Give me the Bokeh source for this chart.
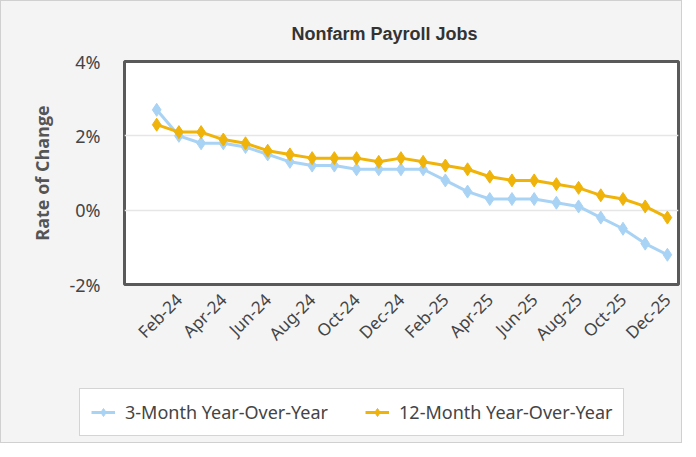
from bokeh.plotting import figure
from bokeh.layouts import column, row
from bokeh.models import Range1d, FixedTicker, Legend, LegendItem
from bokeh.embed import file_html
from bokeh.resources import INLINE

months = ["Jan-24", "Feb-24", "Mar-24", "Apr-24", "May-24", "Jun-24", "Jul-24", "Aug-24",
          "Sep-24", "Oct-24", "Nov-24", "Dec-24", "Jan-25", "Feb-25", "Mar-25", "Apr-25",
          "May-25", "Jun-25", "Jul-25", "Aug-25", "Sep-25", "Oct-25", "Nov-25", "Dec-25"]
three_month = [2.7, 2.0, 1.8, 1.8, 1.7, 1.5, 1.3, 1.2, 1.2, 1.1, 1.1, 1.1,
               1.1, 0.8, 0.5, 0.3, 0.3, 0.3, 0.2, 0.1, -0.2, -0.5, -0.9, -1.2]
twelve_month = [2.3, 2.1, 2.1, 1.9, 1.8, 1.6, 1.5, 1.4, 1.4, 1.4, 1.3, 1.4,
                1.3, 1.2, 1.1, 0.9, 0.8, 0.8, 0.7, 0.6, 0.4, 0.3, 0.1, -0.2]
y_ticks = [-2, 0, 2, 4]
series_names = ["3-Month Year-Over-Year", "12-Month Year-Over-Year"]

x = list(range(len(months)))
label_idx = [i for i, m in enumerate(months) if i % 2 == 1]

BLUE = "#a9d3f5"
ORANGE = "#f0b30a"
TXT = "#444444"
BG = "#f4f4f4"

p = figure(width=680, height=370, output_backend="svg", toolbar_location=None,
           x_range=Range1d(-1.45, 23.5), y_range=Range1d(-2, 4),
           min_border_left=123, min_border_right=3, min_border_top=60, min_border_bottom=87,
           background_fill_color="white", border_fill_color=BG,
           outline_line_color="#595959", outline_line_width=3)

p.title.text = "Nonfarm Payroll Jobs"
p.title.align = "left"
p.title.offset = 167
p.title.standoff = 36
p.title.text_font = "Liberation Sans"
p.title.text_font_size = "18px"
p.title.text_font_style = "bold"
p.title.text_color = "#333333"

p.line(x, three_month, line_color=BLUE, line_width=3)
p.scatter(x, three_month, marker="diamond", size=13, fill_color=BLUE, line_color=BLUE)
p.line(x, twelve_month, line_color=ORANGE, line_width=3)
p.scatter(x, twelve_month, marker="diamond", size=13, fill_color=ORANGE, line_color=ORANGE)

# axes
p.xaxis.ticker = FixedTicker(ticks=label_idx)
p.xaxis.major_label_overrides = {i: months[i] for i in label_idx}
p.xaxis.major_label_orientation = 0.785398
p.xaxis.major_label_standoff = 6
p.yaxis.ticker = FixedTicker(ticks=y_ticks)
p.yaxis.major_label_overrides = {v: f"{v}%" for v in y_ticks}
p.yaxis.major_label_standoff = 18
p.yaxis.axis_label = "Rate of Change"
p.yaxis.axis_label_standoff = 12
p.yaxis.axis_label_text_font = "Open Sans"
p.yaxis.axis_label_text_font_style = "bold"
p.yaxis.axis_label_text_font_size = "18px"
p.yaxis.axis_label_text_color = "#555555"
for ax in (p.xaxis, p.yaxis):
    ax.axis_line_color = None
    ax.major_tick_line_color = None
    ax.minor_tick_line_color = None
    ax.major_label_text_font = "Noto Sans"
    ax.major_label_text_font_size = "17px"
    ax.major_label_text_color = TXT
p.yaxis.major_label_text_font_size = "18px"

p.xgrid.grid_line_color = None
p.ygrid.ticker = FixedTicker(ticks=y_ticks)
p.ygrid.grid_line_color = "#e6e6e6"
p.ygrid.grid_line_width = 1.5

# legend strip (separate figure so the legend can sit outside the plot frame);
# the series are drawn here outside the visible y range only to feed the legend glyphs
q = figure(width=680, height=71, output_backend="svg", toolbar_location=None,
           x_range=Range1d(-1.45, 23.5), y_range=Range1d(100, 101),
           x_axis_type=None, y_axis_type=None,
           min_border_left=0, min_border_right=0, min_border_top=0, min_border_bottom=0,
           background_fill_color=BG, border_fill_color=BG, outline_line_color=None)
q.xgrid.visible = False
q.ygrid.visible = False
ql1 = q.line(x, three_month, line_color=BLUE, line_width=3)
qs1 = q.scatter(x, three_month, marker="diamond", size=13, fill_color=BLUE, line_color=BLUE)
ql2 = q.line(x, twelve_month, line_color=ORANGE, line_width=3)
qs2 = q.scatter(x, twelve_month, marker="diamond", size=13, fill_color=ORANGE, line_color=ORANGE)

legend = Legend(items=[LegendItem(label=series_names[0], renderers=[ql1, qs1]),
                       LegendItem(label=series_names[1], renderers=[ql2, qs2])],
                location=(78, 6), orientation="horizontal",
                label_text_font="Noto Sans", label_text_font_size="18px",
                label_text_color=TXT, glyph_width=24, glyph_height=20,
                label_standoff=10, spacing=37, padding=11, margin=0,
                border_line_color="#aaaaaa", border_line_width=1,
                background_fill_color="white", background_fill_alpha=1)
q.add_layout(legend, "center")

layout = column(p, row(q), spacing=0, styles={"border": "1px solid #d0d0d0", "background": BG})

open("out.html", "w").write(file_html(layout, INLINE))
